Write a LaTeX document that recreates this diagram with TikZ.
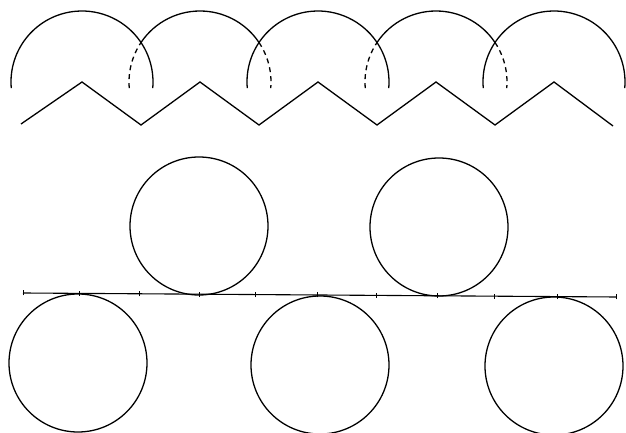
\documentclass[tikz,border=0pt]{standalone}
\begin{document}
\begin{tikzpicture}[x=1pt,y=1pt,
  ink/.style={line width=1.3pt,black},
  dashpart/.style={ink,dash pattern=on 5pt off 4pt}]
\useasboundingbox (0,0) rectangle (626,433);
% top arcs
\foreach \cx in {82,318,554}{
  \draw[ink] ([shift={(185:71)}]\cx,351) arc[start angle=185,end angle=-5,radius=71];
}
\foreach \cx in {200,436}{
  \draw[dashpart] ([shift={(185:71)}]\cx,351) arc[start angle=185,end angle=146.2,radius=71];
  \draw[ink] ([shift={(146.2:71)}]\cx,351) arc[start angle=146.2,end angle=33.8,radius=71];
  \draw[dashpart] ([shift={(33.8:71)}]\cx,351) arc[start angle=33.8,end angle=-5,radius=71];
}
% zigzag
\draw[ink,line join=miter] (21,309) -- (82,351) -- (141,308) -- (200,351) -- (259,308)
  -- (318,351) -- (377,308) -- (436,351) -- (495,308) -- (554,351) -- (613,307);
% base line with ticks
\coordinate (L) at (23,140);
\coordinate (R) at (616,136);
\draw[line width=1.1pt] (L) -- (R);
\draw[line width=0.9pt] (23,137.5) -- (23,142.5);
\draw[line width=0.9pt] (616,133.5) -- (616,138.5);
\foreach \tx in {79,139,199,255,317,376,437,494,557}{
  \pgfmathsetmacro{\ty}{140-(\tx-23)*4/593}
  \draw[line width=0.9pt] (\tx,\ty-2.5) -- (\tx,\ty+2.5);
}
% upper circles
\draw[ink] (199,207) circle[radius=69];
\draw[ink] (439,206) circle[radius=69];
% lower circles
\draw[ink] (78,70) circle[radius=69];
\draw[ink] (320,68) circle[radius=69];
\draw[ink] (554,67) circle[radius=69];
\end{tikzpicture}
\end{document}
